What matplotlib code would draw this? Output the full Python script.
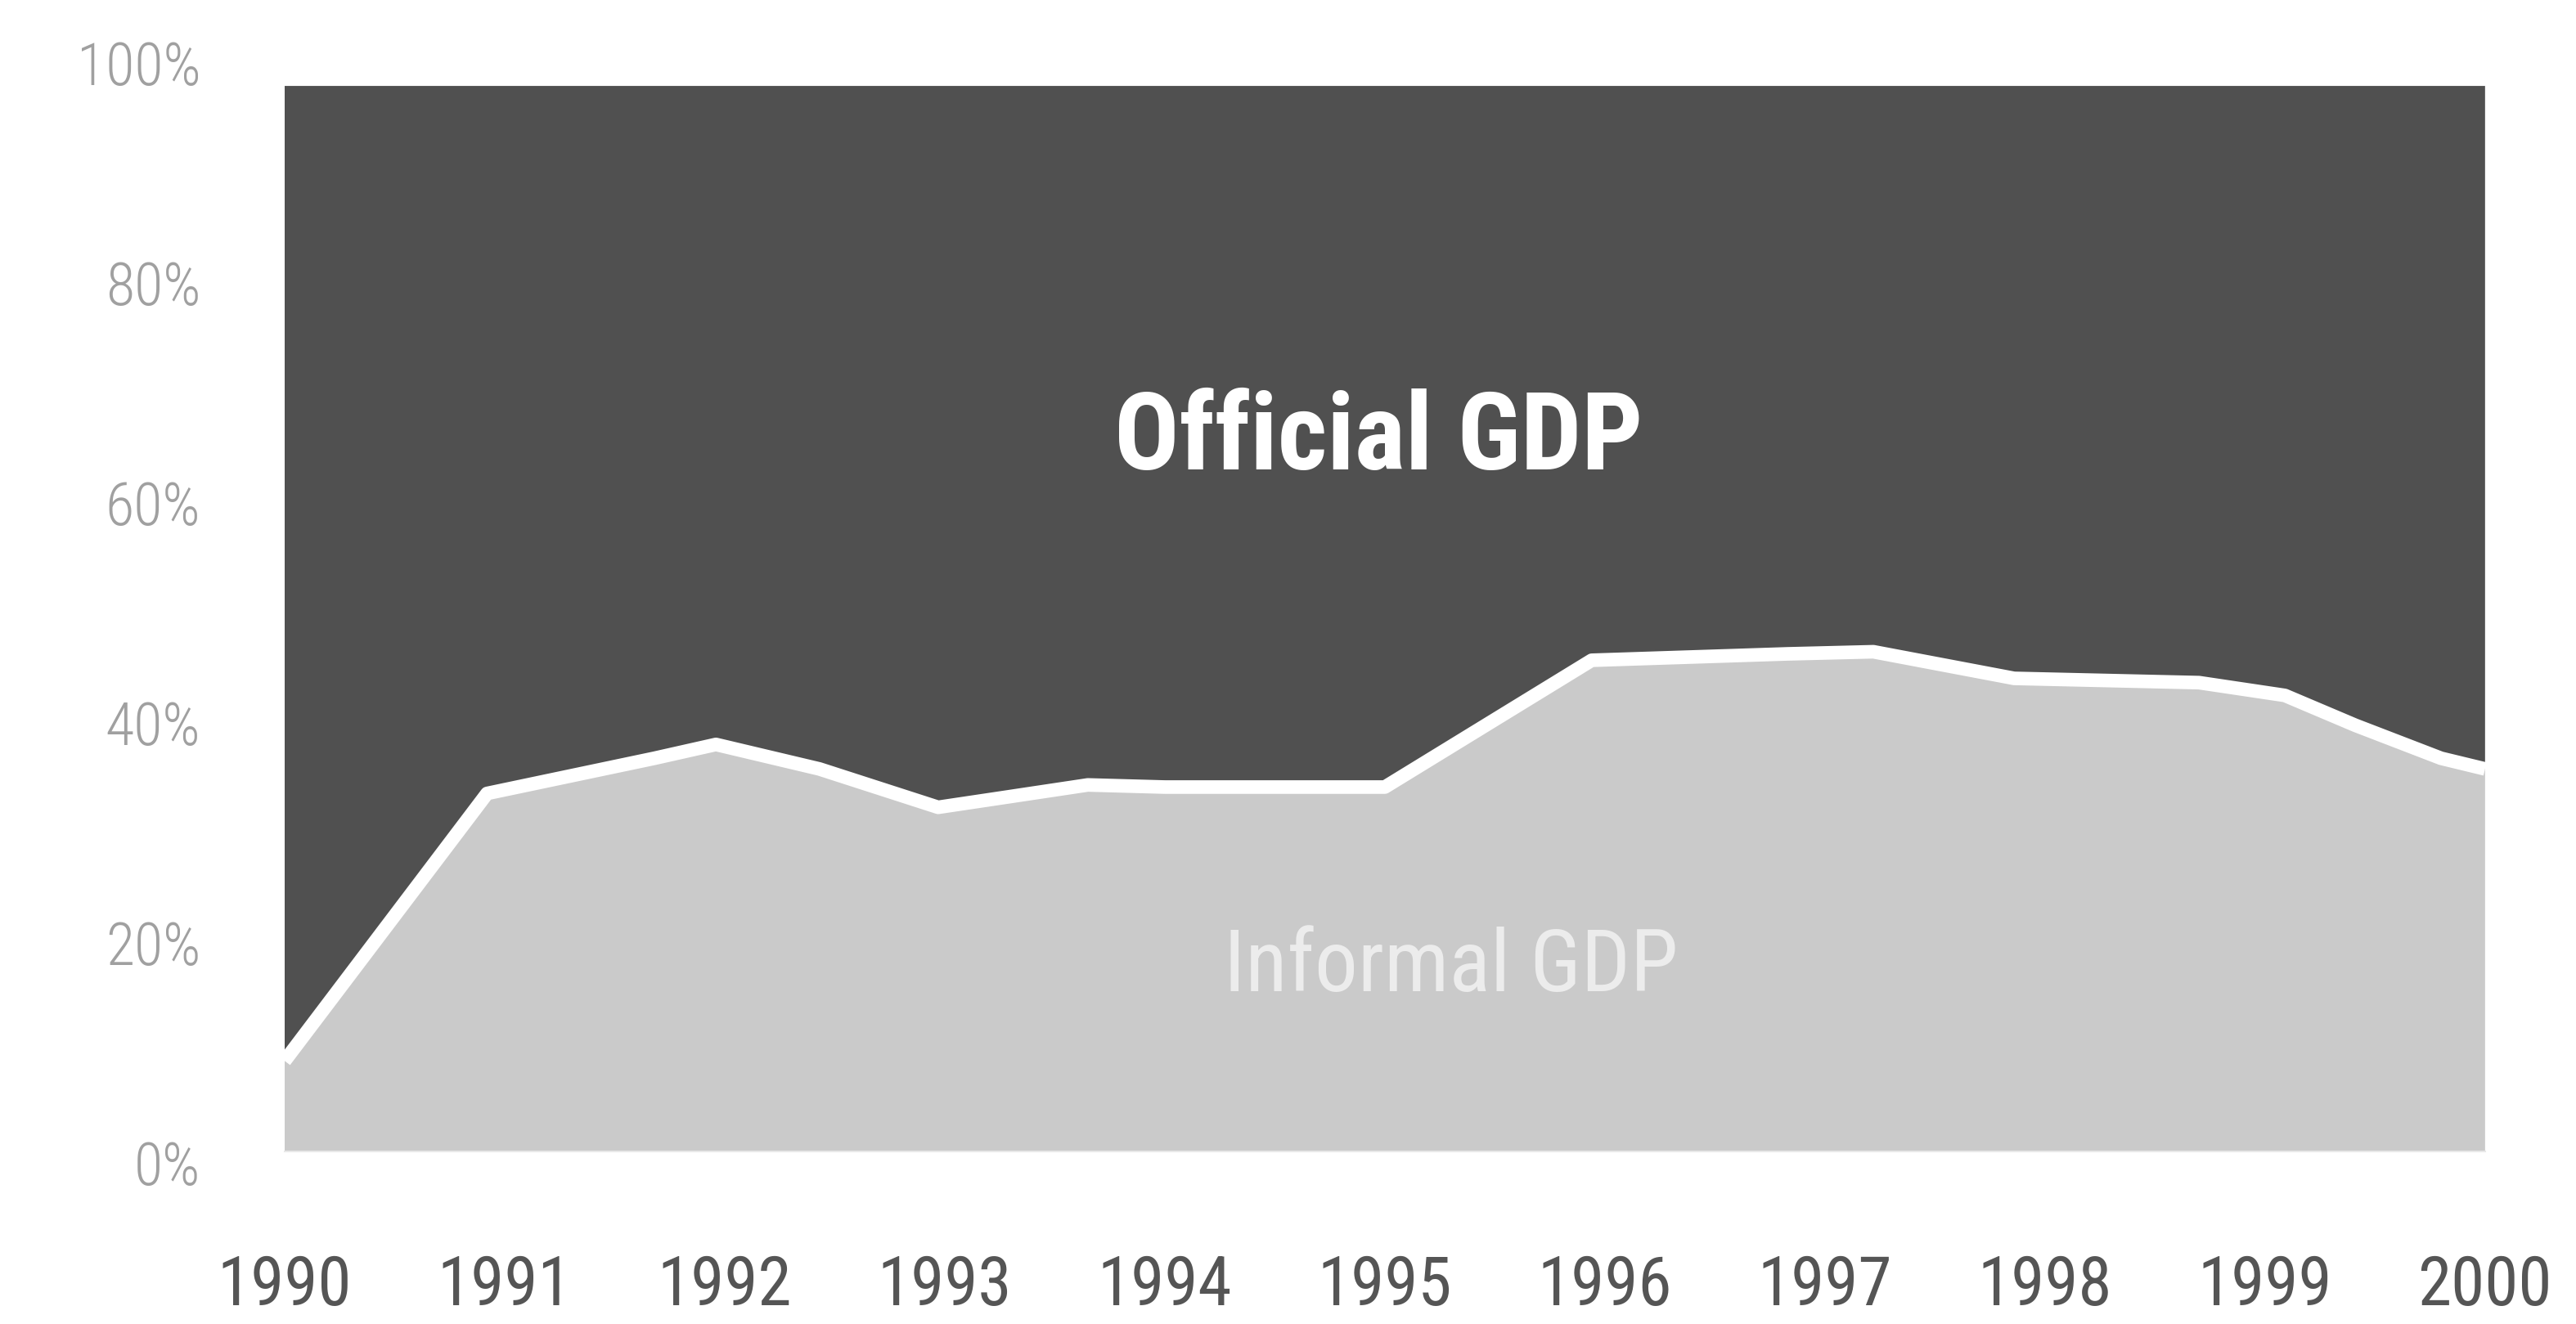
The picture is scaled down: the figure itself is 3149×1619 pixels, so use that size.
import matplotlib
matplotlib.use("Agg")
import matplotlib.pyplot as plt

# informal share of GDP (%)
years = [1990.0, 1990.92, 1991.68, 1991.96, 1992.43, 1992.97, 1993.23, 1993.65, 1994.0,
         1995.0, 1995.94, 1996.83, 1997.22, 1997.86, 1998.7, 1999.09, 1999.41, 1999.8, 2000.0]
informal = [8.5, 33.6, 36.9, 38.2, 35.9, 32.3, 33.1, 34.4, 34.2,
            34.2, 46.1, 46.7, 46.9, 44.4, 44.0, 42.8, 40.0, 36.9, 35.9]
official = [100 - v for v in informal]

year_ticks = list(range(1990, 2001))
pct_ticks = [0, 20, 40, 60, 80, 100]

plt.rcParams['font.family'] = ['Roboto Condensed', 'DejaVu Sans']

fig = plt.figure(figsize=(31.49, 16.19), dpi=100)
ax = fig.add_axes([0.1105, 0.1303, 0.8542, 0.8048])

ax.stackplot(years, informal, official, colors=['#cacaca', '#505050'])
ax.plot(years, informal, color='white', lw=12, solid_joinstyle='round', solid_capstyle='butt')

ax.set_xlim(1990, 2000)
ax.set_ylim(0, 100)
for s in ['top', 'right', 'left']:
    ax.spines[s].set_visible(False)
ax.spines['bottom'].set_color('#e8e8e8')
ax.spines['bottom'].set_linewidth(1.5)

ax.set_xticks(year_ticks)
ax.set_xticklabels([str(y) for y in year_ticks], fontsize=60, color='#555555')
ax.tick_params(axis='x', length=0, pad=90)
ax.set_yticks([])

ax.text(1994.97, 66.8, 'Official GDP', ha='center', va='center', color='white',
        fontsize=95, fontweight='bold')
ax.text(1995.3, 17.2, 'Informal GDP', ha='center', va='center', color='#ececec',
        fontsize=76)

# the percent labels sit on a slightly taller scale than the plot area
lab = fig.add_axes([0.1105, 0.1217, 0.8542, 0.8307], frameon=False)
lab.set_ylim(0, 100)
lab.set_xticks([])
lab.set_yticks(pct_ticks)
lab.set_yticklabels([f'{p}%' for p in pct_ticks], fontsize=52, fontweight='light', color='#a0a0a0')
lab.tick_params(axis='y', length=0, pad=74)
lab.patch.set_visible(False)

fig.savefig('out.png', dpi=100)
